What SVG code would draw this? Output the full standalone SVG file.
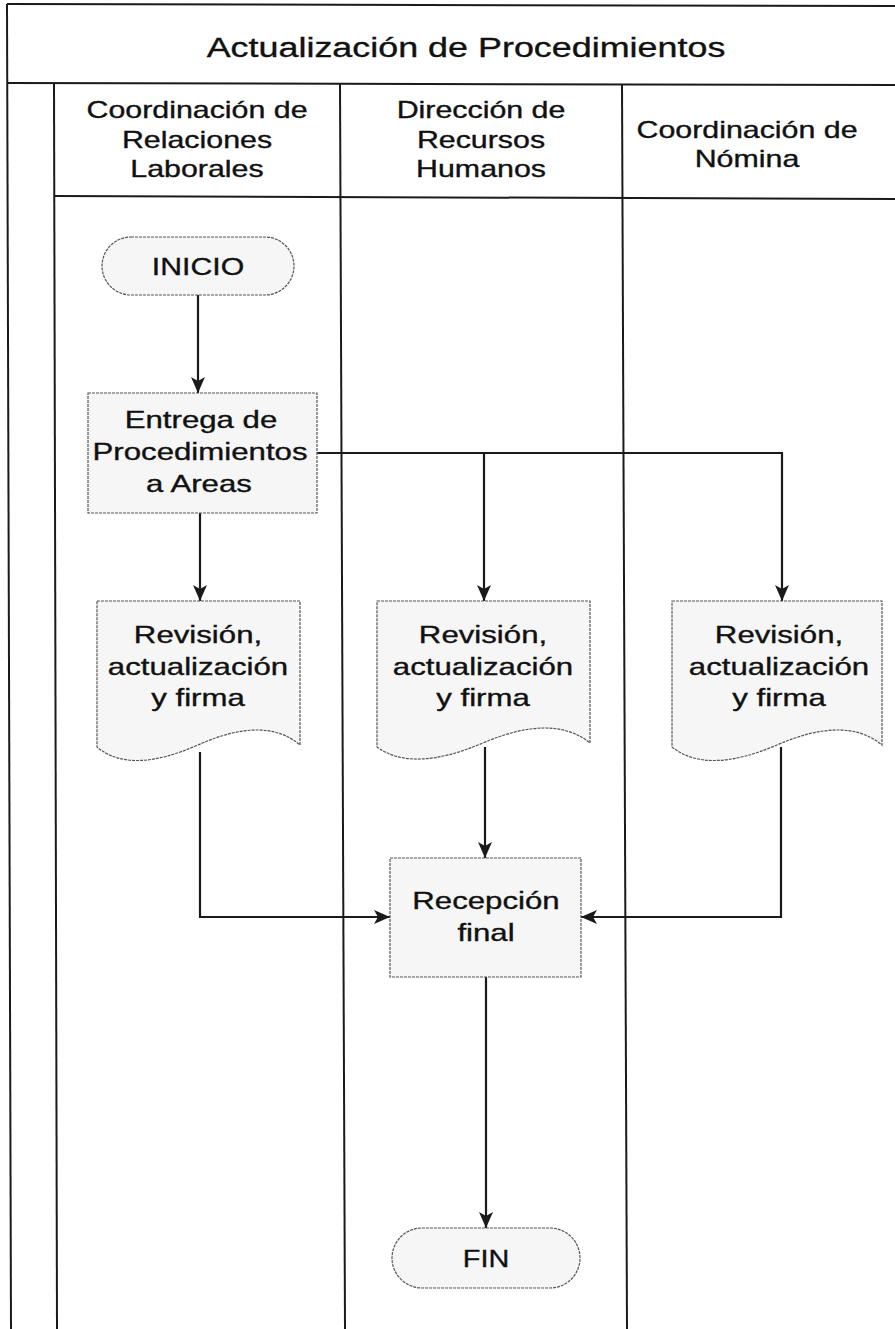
<svg xmlns="http://www.w3.org/2000/svg" width="895" height="1329" viewBox="0 0 895 1329">
<style>
.lane{stroke:#1a1a1a;stroke-width:2;fill:none}
.node{fill:#f6f6f6;stroke:#555;stroke-width:1.2;stroke-dasharray:3 1}
.conn{stroke:#1a1a1a;stroke-width:2.2;fill:none}
text{font-family:"Liberation Sans",Arial,sans-serif;fill:#111;stroke:#111;stroke-width:0.35;text-anchor:middle}
.t{font-size:27px}
.h{font-size:23px}
.n{font-size:24px}
</style>
<defs>
<marker id="arr" markerUnits="userSpaceOnUse" markerWidth="16" markerHeight="14" viewBox="0 0 16 14" refX="16" refY="7" orient="auto">
<path d="M0,0 L16,7 L0,14 L4,7 Z" fill="#1a1a1a"/>
</marker>
</defs>
<rect width="895" height="1329" fill="#ffffff"/>
<g id="lanes">
<line class="lane" x1="7" y1="4" x2="895" y2="6"/>
<line class="lane" x1="7" y1="4" x2="11" y2="1329"/>
<line class="lane" x1="7" y1="83" x2="895" y2="85"/>
<line class="lane" x1="54" y1="83" x2="57" y2="1329"/>
<line class="lane" x1="54" y1="196" x2="895" y2="199"/>
<line class="lane" x1="340" y1="83" x2="345" y2="1329"/>
<line class="lane" x1="622" y1="84" x2="627" y2="1329"/>
</g>
<g id="title">
<text class="t" transform="translate(466,57) scale(1.33,1)">Actualización de Procedimientos</text>
</g>
<g id="lane-headers">
<text class="h" transform="translate(197,118) scale(1.32,1)">Coordinación de</text>
<text class="h" transform="translate(197,148) scale(1.32,1)">Relaciones</text>
<text class="h" transform="translate(197,177) scale(1.32,1)">Laborales</text>
<text class="h" transform="translate(481,118) scale(1.32,1)">Dirección de</text>
<text class="h" transform="translate(481,148) scale(1.32,1)">Recursos</text>
<text class="h" transform="translate(481,177) scale(1.32,1)">Humanos</text>
<text class="h" transform="translate(747,138) scale(1.32,1)">Coordinación de</text>
<text class="h" transform="translate(747,167) scale(1.32,1)">Nómina</text>
</g>
<g id="connectors">
<line class="conn" x1="198" y1="295" x2="198" y2="393" marker-end="url(#arr)"/>
<line class="conn" x1="200" y1="513" x2="200" y2="601" marker-end="url(#arr)"/>
<path class="conn" d="M317,453 H782 V601" marker-end="url(#arr)"/>
<path class="conn" d="M484,453 V601" marker-end="url(#arr)"/>
<path class="conn" d="M200,752 V917 H390" marker-end="url(#arr)"/>
<path class="conn" d="M485,747 V858" marker-end="url(#arr)"/>
<path class="conn" d="M781,747 V917 H581" marker-end="url(#arr)"/>
<path class="conn" d="M486,977 V1228" marker-end="url(#arr)"/>
</g>
<g id="inicio">
<rect class="node" x="102" y="237" width="192" height="58" rx="29"/>
<text class="n" transform="translate(198,275) scale(1.26,1)" font-size="25">INICIO</text>
</g>
<g id="entrega">
<rect class="node" x="88" y="393" width="229" height="120"/>
<text class="n" transform="translate(201,428) scale(1.3,1)">Entrega de</text>
<text class="n" transform="translate(200,460) scale(1.3,1)">Procedimientos</text>
<text class="n" transform="translate(199,492) scale(1.3,1)">a Areas</text>
</g>
<g id="revision-rl">
<path class="node" d="M97,601 H300 V745 Q265,715 198,745 Q130,775 97,747 Z"/>
<text class="n" transform="translate(198,643) scale(1.3,1)">Revisión,</text>
<text class="n" transform="translate(198,675) scale(1.3,1)">actualización</text>
<text class="n" transform="translate(198,706) scale(1.3,1)">y firma</text>
</g>
<g id="revision-rh">
<path class="node" d="M377,601 H590 V743 Q553,713 483,743 Q412,773 377,747 Z"/>
<text class="n" transform="translate(483,643) scale(1.3,1)">Revisión,</text>
<text class="n" transform="translate(483,675) scale(1.3,1)">actualización</text>
<text class="n" transform="translate(483,706) scale(1.3,1)">y firma</text>
</g>
<g id="revision-nom">
<path class="node" d="M672,601 H882 V745 Q846,715 777,745 Q707,775 672,747 Z"/>
<text class="n" transform="translate(779,643) scale(1.3,1)">Revisión,</text>
<text class="n" transform="translate(779,675) scale(1.3,1)">actualización</text>
<text class="n" transform="translate(779,706) scale(1.3,1)">y firma</text>
</g>
<g id="recepcion">
<rect class="node" x="390" y="858" width="191" height="119"/>
<text class="n" transform="translate(486,909) scale(1.3,1)">Recepción</text>
<text class="n" transform="translate(486,941) scale(1.3,1)">final</text>
</g>
<g id="fin">
<rect class="node" x="392" y="1228" width="188" height="60" rx="30"/>
<text class="n" transform="translate(486,1267) scale(1.2,1)" font-size="25">FIN</text>
</g>
</svg>
